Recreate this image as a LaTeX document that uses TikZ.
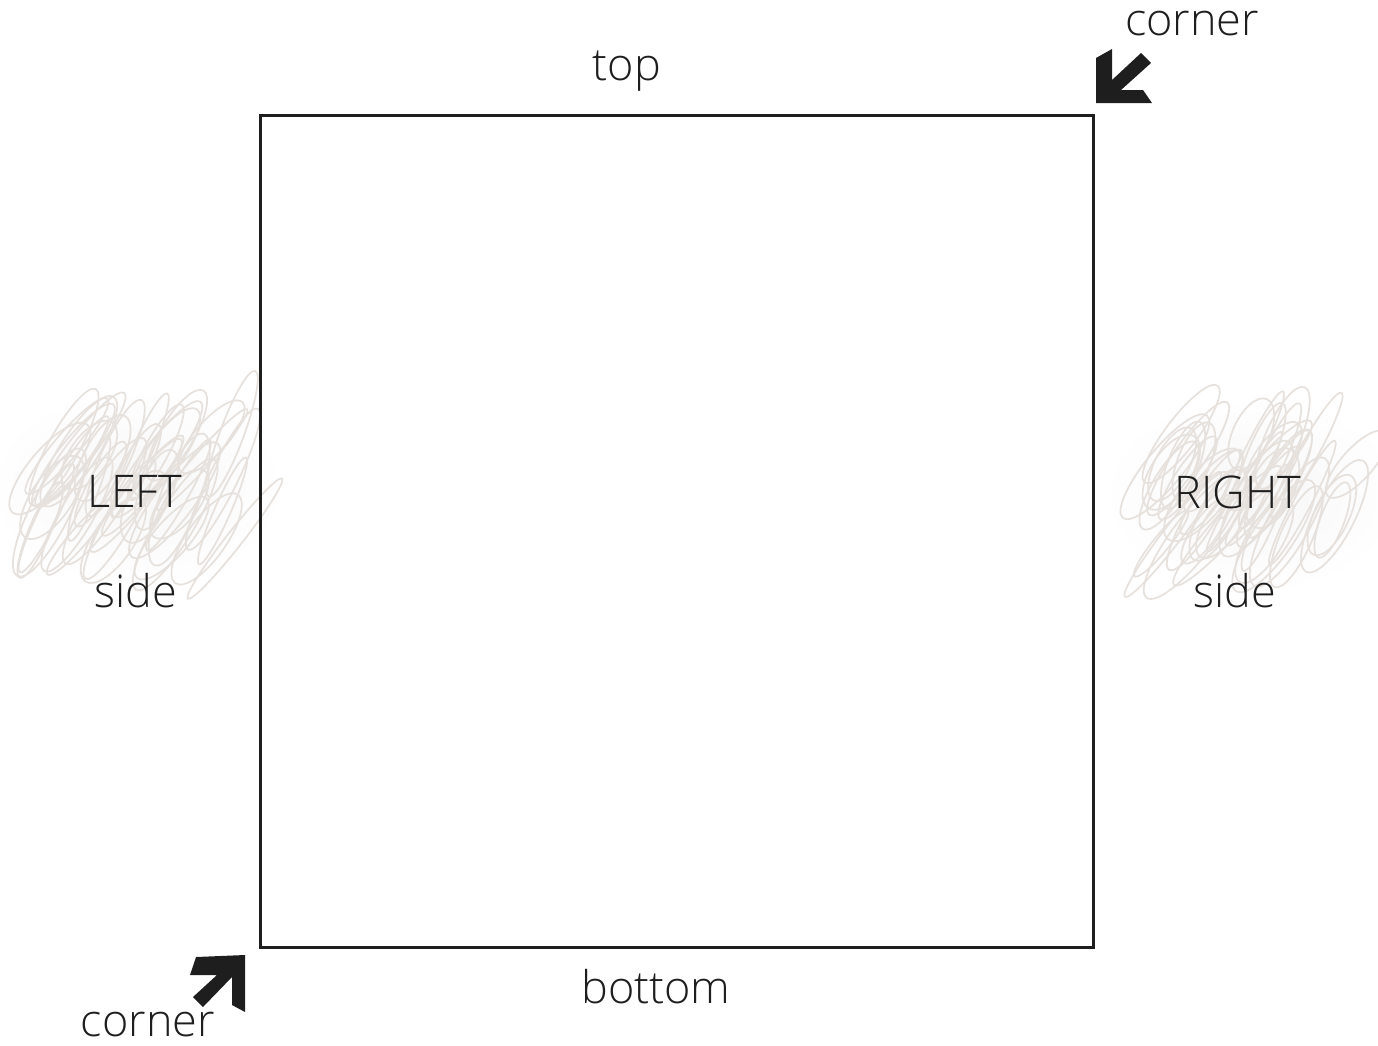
\documentclass[tikz,border=0pt]{standalone}
\usepackage{fontspec}
\setmainfont{Open Sans Light}
\definecolor{ink}{HTML}{1E1E1E}
\definecolor{scribc}{HTML}{E6E1DC}
\tikzset{
  lbl/.style={anchor=base, text=ink, inner sep=0pt, font=\fontsize{45}{50}\selectfont},
  scrib/.style={draw=scribc, line width=1.7pt},
  glow/.style={inner color=black!3.5, outer color=white},
  bigarrow/.style={fill=ink, draw=none},
  box/.style={draw=ink, line width=2.5pt, minimum width=833pt, minimum height=832pt, anchor=north west, inner sep=0pt}
}
\begin{document}
\begin{tikzpicture}[x=1pt,y=-1pt]
\useasboundingbox (0,0) rectangle (1378,1045);
% soft glow behind the scribbles
\shade[glow] (137,488) ellipse[x radius=150, y radius=100];
\shade[glow] (1252,495) ellipse[x radius=150, y radius=100];
% scribbles behind side labels
\pgfmathsetseed{11}
\foreach \ox in {0,1120}{
  \foreach \i in {1,...,44}{
    \pgfmathsetmacro\cx{\ox+40+rnd*200}
    \pgfmathsetmacro\cy{432+rnd*112}
    \pgfmathsetmacro\rx{38+rnd*42}
    \pgfmathsetmacro\ry{8+rnd*14}
    \pgfmathsetmacro\ang{48+rnd*22}
    \draw[scrib, rotate around={\ang:(\cx,\cy)}] (\cx,\cy) ellipse[x radius=\rx, y radius=\ry];
  }
}
% the square
\node[box] (sq) at (259,114) {};
% labels
\node[lbl] (top) at (627,80) {top};
\node[lbl] (bottom) at (656,1003) {bottom};
\node[lbl] (cornerTR) at (1192,35) {corner};
\node[lbl] (cornerBL) at (148,1036) {corner};
\node[lbl] (left) at (135,507) {LEFT};
\node[lbl] (leftside) at (136,607) {side};
\node[lbl] (right) at (1238,508) {RIGHT};
\node[lbl] (rightside) at (1235,607) {side};
% corner arrows
\fill[bigarrow] (1096,103) -- (1096,58) -- (1112,49) -- (1112,80) -- (1141,53)
  -- (1151,63) -- (1121,90) -- (1143,90) -- (1152,103) -- cycle;
\fill[bigarrow] (190,975) -- (196,957) -- (245,955) -- (245,1012) -- (232,1005)
  -- (232,977) -- (203,1007) -- (193,997) -- (217,975) -- cycle;
\end{tikzpicture}
\end{document}
